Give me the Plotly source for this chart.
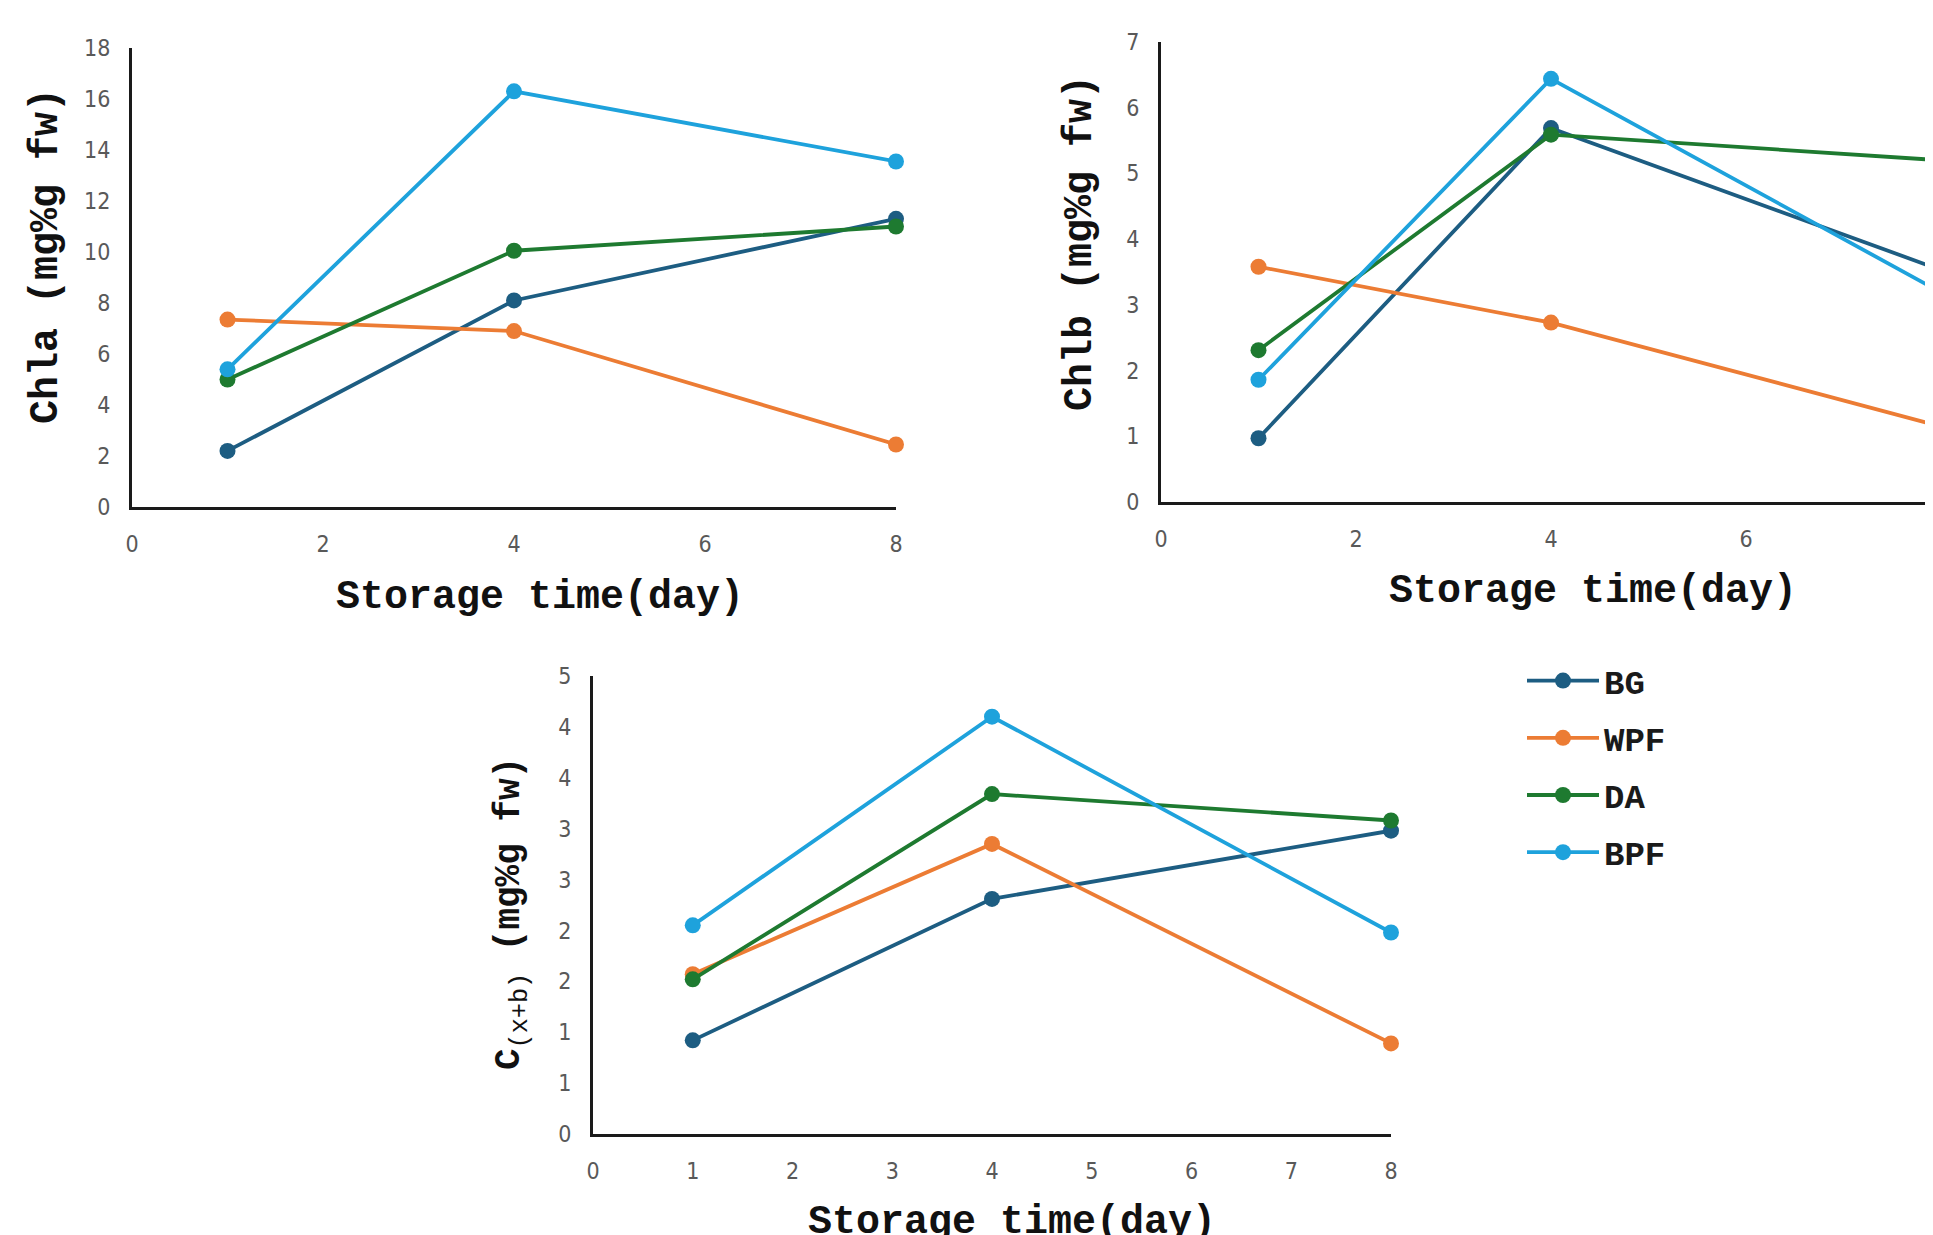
import plotly.graph_objects as go

# ---------------- data ----------------
days = [1, 4, 8]
series_names = ["BG", "WPF", "DA", "BPF"]
series_colors = ["#1d5d82", "#ec7c34", "#1e7a30", "#1ea2dc"]

# Chlorophyll a (mg%g fw)
chla_bg = [2.2, 8.1, 11.3]
chla_wpf = [7.35, 6.9, 2.45]
chla_da = [5.0, 10.05, 11.0]
chla_bpf = [5.4, 16.3, 13.55]

# Chlorophyll b (mg%g fw)
chlb_bg = [0.97, 5.69, 3.53]
chlb_wpf = [3.58, 2.73, 1.15]
chlb_da = [2.31, 5.59, 5.2]
chlb_bpf = [1.86, 6.44, 3.19]

# Carotenoids C(x+b) (mg%g fw)
cxb_bg = [0.92, 2.31, 2.98]
cxb_wpf = [1.57, 2.85, 0.89]
cxb_da = [1.52, 3.34, 3.08]
cxb_bpf = [2.05, 4.1, 1.98]

# tick labels
chla_ticks = [0, 2, 4, 6, 8, 10, 12, 14, 16, 18]
chlb_ticks = [0, 1, 2, 3, 4, 5, 6, 7]
cxb_tickvals = [0, 0.5, 1, 1.5, 2, 2.5, 3, 3.5, 4, 4.5]
cxb_ticktext = ["0", "1", "1", "2", "2", "3", "3", "4", "4", "5"]
day_ticks_ab = [0, 2, 4, 6, 8]
day_ticks_c = [0, 1, 2, 3, 4, 5, 6, 7, 8]

x_title = "Storage time(day)"
chla_title = "Chla (mg%g fw)"
chlb_title = "Chlb (mg%g fw)"
cxb_title = "C<sub><span style='font-weight:normal'>(x+b)</span></sub> (mg%g fw)"

# ---------------- figure ----------------
W, H = 1933, 1235
OFF = 8  # page body margin of the browser
panels = [
    ([chla_bg, chla_wpf, chla_da, chla_bpf], "x", "y"),
    ([chlb_bg, chlb_wpf, chlb_da, chlb_bpf], "x2", "y2"),
    ([cxb_bg, cxb_wpf, cxb_da, cxb_bpf], "x3", "y3"),
]

fig = go.Figure()
for i, name in enumerate(series_names):
    for p, (vals, xa, ya) in enumerate(panels):
        fig.add_trace(go.Scatter(
            x=days, y=vals[i], mode="lines+markers",
            xaxis=xa, yaxis=ya, name="<b>" + name + "</b>", legendgroup=name,
            showlegend=(p == 0), cliponaxis=False,
            line=dict(color=series_colors[i], width=3.8),
            marker=dict(size=16, color=series_colors[i]),
        ))

tick_font = dict(family="Liberation Sans Narrow, Arial Narrow, DejaVu Sans Condensed, Liberation Sans, sans-serif",
                 size=23, color="#595959")
axis_common = dict(showline=True, linecolor="#1a1a1a", linewidth=3, showgrid=False,
                   zeroline=False, ticks="", tickfont=tick_font, ticklabelstandoff=14,
                   fixedrange=True, automargin=False)


def px_x(p):
    return (p - OFF) / W


def px_y(p):
    return 1 - (p - OFF) / H


fig.update_layout(
    width=W, height=H,
    margin=dict(l=0, r=0, t=0, b=0, pad=0, autoexpand=False),
    paper_bgcolor="white", plot_bgcolor="white",
    showlegend=True,
    legend=dict(x=px_x(1522), y=px_y(652), xanchor="left", yanchor="top",
                font=dict(family="Liberation Mono, Courier New, monospace", size=34, color="#1a1a1a"),
                tracegroupgap=10, bgcolor="rgba(0,0,0,0)", itemwidth=72),
    xaxis=dict(axis_common, domain=[px_x(132), px_x(896)], range=[0, 8],
               tickvals=day_ticks_ab, anchor="y"),
    yaxis=dict(axis_common, domain=[px_y(507), px_y(48)], range=[0, 18],
               tickvals=chla_ticks, anchor="x"),
    xaxis2=dict(axis_common, domain=[px_x(1161), 1.0], range=[0, 8],
                tickvals=day_ticks_ab, anchor="y2"),
    yaxis2=dict(axis_common, domain=[px_y(502), px_y(42)], range=[0, 7],
                tickvals=chlb_ticks, anchor="x2"),
    xaxis3=dict(axis_common, domain=[px_x(593), px_x(1391)], range=[0, 8],
                tickvals=day_ticks_c, anchor="y3"),
    yaxis3=dict(axis_common, domain=[px_y(1134), px_y(676)], range=[0, 4.5],
                tickvals=cxb_tickvals, ticktext=cxb_ticktext, anchor="x3"),
)

annots = [
    (x_title, 540, 597, 0, 40),
    (x_title, 1593, 592, 0, 40),
    (x_title, 1012, 1222, 0, 40),
    (chla_title, 47, 256, -90, 40),
    (chlb_title, 1080, 243, -90, 40),
    (cxb_title, 512, 913, -90, 36),
]
for text, ax, ay, ang, fs in annots:
    fig.add_annotation(text="<b>" + text + "</b>", x=px_x(ax), y=px_y(ay),
                       xref="paper", yref="paper",
                       xanchor="center", yanchor="middle", showarrow=False,
                       textangle=ang,
                       font=dict(family="Liberation Mono, Courier New, monospace",
                                 size=fs, color="#111111"))

fig.write_html("out.html")
